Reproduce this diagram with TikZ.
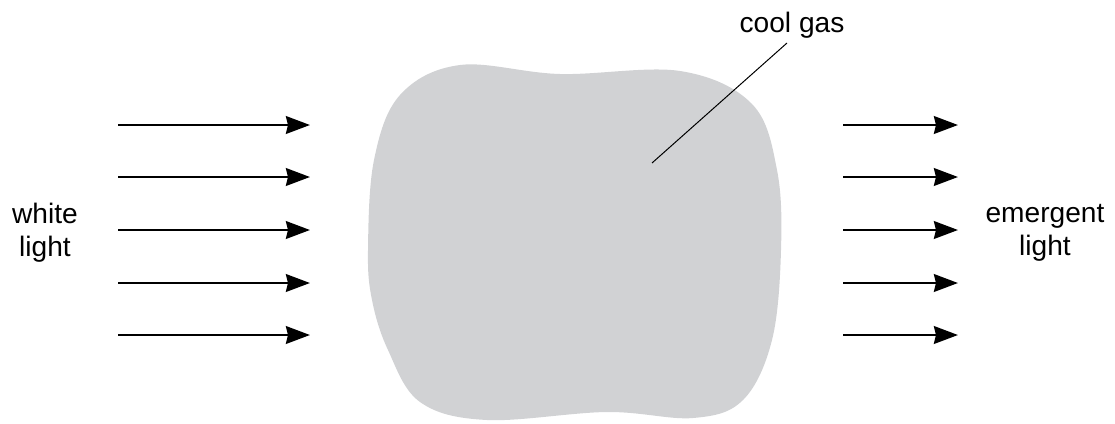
\documentclass[tikz,border=0pt]{standalone}
\usepackage{fontspec}
\setmainfont{Liberation Sans}
\usetikzlibrary{arrows.meta}
\definecolor{gasgray}{RGB}{209,210,212}

\begin{document}
\begin{tikzpicture}[x=0.025cm,y=-0.025cm,line cap=butt,line join=round,
  ray/.style={line width=2.1pt,-{Stealth[length=0.6cm,width=0.44cm,inset=0.05cm]}},
  lbl/.style={font=\fontsize{20}{23.5}\selectfont,inner sep=0pt,align=center}]
\useasboundingbox (0,0) rectangle (1115,423);
% the cloud of cool gas
\fill[gasgray] plot[smooth cycle,tension=0.6] coordinates {
  (368,250) (374,160) (400,95) (460,65) (560,74) (680,71)
  (752,104) (777,170) (781,250) (772,340) (743,400) (693,418)
  (607,412) (487,420) (420,402) (388,350) (372,300)};
% incoming rays
\coordinate (a1) at (118,125); \coordinate (b1) at (310,125);
\coordinate (a2) at (118,177); \coordinate (b2) at (310,177);
\coordinate (a3) at (118,230); \coordinate (b3) at (310,230);
\coordinate (a4) at (118,283); \coordinate (b4) at (310,283);
\coordinate (a5) at (118,335); \coordinate (b5) at (310,335);
% outgoing rays
\coordinate (c1) at (843,125); \coordinate (d1) at (958,125);
\coordinate (c2) at (843,177); \coordinate (d2) at (958,177);
\coordinate (c3) at (843,230); \coordinate (d3) at (958,230);
\coordinate (c4) at (843,283); \coordinate (d4) at (958,283);
\coordinate (c5) at (843,335); \coordinate (d5) at (958,335);
\draw[ray] (a1) -- (b1);
\draw[ray] (a2) -- (b2);
\draw[ray] (a3) -- (b3);
\draw[ray] (a4) -- (b4);
\draw[ray] (a5) -- (b5);
\draw[ray] (c1) -- (d1);
\draw[ray] (c2) -- (d2);
\draw[ray] (c3) -- (d3);
\draw[ray] (c4) -- (d4);
\draw[ray] (c5) -- (d5);
% labels
\node[lbl] (white) at (45,233) {white\\light};
\node[lbl] (emergent) at (1045,233) {emergent\\light};
\node[lbl,anchor=base] (gas) at (792,32) {cool gas};
\coordinate (inside) at (652,163);
\coordinate (tip) at (787,43);
\draw[line width=0.7pt] (inside) -- (tip);
\end{tikzpicture}
\end{document}
